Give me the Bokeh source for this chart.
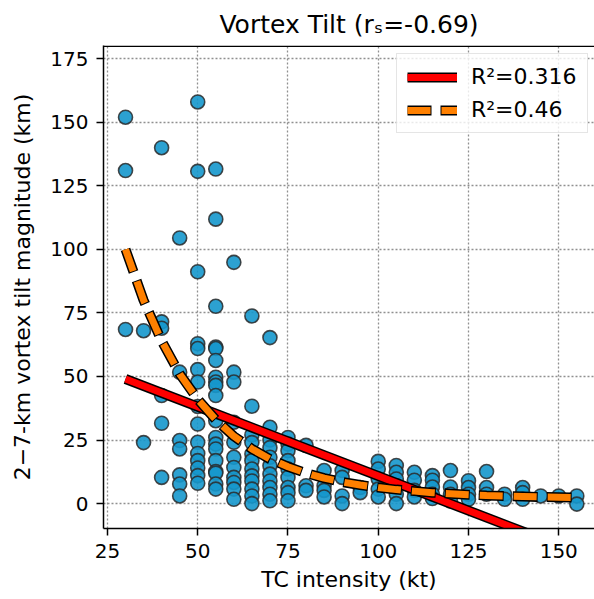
from bokeh.plotting import figure
from bokeh.models import (ColumnDataSource, Range1d, FixedTicker, Legend, LegendItem, Span)
from bokeh.embed import file_html
from bokeh.resources import INLINE

# ---------------- data ----------------
intensity_kt = (
    [30] * 3 + [35] * 2 + [40] * 6 + [45] * 7 + [50] * 15 + [55] * 19 +
    [60] * 11 + [65] * 12 + [70] * 11 + [75] * 9 + [80] * 3 + [85] * 4 +
    [90] * 4 + [95] * 2 + [100] * 5 + [105] * 6 + [110] * 4 + [115] * 5 +
    [120] * 4 + [125] * 4 + [130] * 3 + [135] * 2 + [140] * 3 + [145] * 1 +
    [150] * 1 + [155] * 2
)
tilt_km = (
    [152, 131, 68.5] +
    [68, 24] +
    [140, 71.5, 69, 42.5, 31.6, 10.3] +
    [104.5, 51.7, 24.8, 21.5, 11.3, 7.7, 3] +
    [158, 130.7, 91.2, 62.9, 61, 52.7, 47.8, 38.2, 31.3, 24.1, 19.7, 16.9, 14, 11, 8] +
    [131.6, 111.9, 77.6, 61.6, 61, 56.3, 49.7, 47.8, 46.5, 42.5, 32.6, 26, 23.4,
     21.5, 16.9, 12.6, 12, 7.7, 5.7] +
    [94.9, 51.7, 47.8, 32, 24.1, 18.2, 14.2, 10.3, 8.3, 5.7, 1.7] +
    [73.8, 38.3, 27, 24, 19.5, 16.9, 13.6, 10.9, 8.9, 5.7, 3, 0] +
    [65.3, 30, 25, 22, 18.2, 14.9, 11.6, 8.9, 6.3, 3.7, 1.1] +
    [26, 23.4, 20.8, 16.9, 13.6, 10.3, 6.3, 4.3, 1.1] +
    [22.9, 7, 5.2] +
    [13, 7, 5.2, 2.6] +
    [13, 10.3, 3, 0] +
    [6.3, 4.3] +
    [16.6, 13.6, 9.7, 5.7, 2.6] +
    [15, 12.3, 9.7, 7, 3.7, 0] +
    [12.3, 9.2, 5.2, 2.6] +
    [11, 9.2, 6.5, 3.7, 2] +
    [13, 6.5, 3.7, 1] +
    [9, 6.3, 3.7, 1.7] +
    [12.6, 6.3, 3.7] +
    [3.7, 1.7] +
    [6.3, 4.3, 1.7] +
    [3] +
    [3] +
    [3, -0.2]
)

# linear fit (R^2 = 0.316), end points
lin_x = [30, 155]
lin_y = [49.0, -19.1]

# curved fit (R^2 = 0.46)
curve_x = [30, 35, 40, 45, 50, 55, 60, 65, 70, 75, 80, 85, 90, 95, 100,
           105, 110, 115, 120, 125, 130, 135, 140, 145, 150, 155]
curve_y = [100, 80, 64, 51, 41, 33, 26.5, 21.5, 17.5, 14.5, 12, 10, 8.5, 7.3, 6.3,
           5.5, 4.9, 4.3, 3.9, 3.5, 3.2, 3.0, 2.8, 2.6, 2.5, 2.4]

x_ticks = [25, 50, 75, 100, 125, 150]
y_ticks = [0, 25, 50, 75, 100, 125, 150, 175]

title_text = "Vortex Tilt (r\u209b=-0.69)"
x_label = "TC intensity (kt)"
y_label = "2\u22127-km vortex tilt magnitude (km)"
legend_labels = ["R\u00b2=0.316", "R\u00b2=0.46"]

FONT = "DejaVu Sans"
Y_TOP = 180.2

# ---------------- figure ----------------
p = figure(width=594, height=599, output_backend="svg", toolbar_location=None,
           x_range=Range1d(23.9, 159.9), y_range=Range1d(-9.8, Y_TOP),
           min_border_left=103, min_border_right=0, min_border_top=45,
           min_border_bottom=71, title=title_text)

p.title.text_font = FONT
p.title.text_font_size = "25px"
p.title.text_font_style = "normal"
p.title.align = "center"
p.title.text_color = "black"
p.title.standoff = 14

p.background_fill_color = "white"
p.border_fill_color = "white"
p.outline_line_color = None

for ax in (p.xaxis[0], p.yaxis[0]):
    ax.axis_line_width = 1.5
    ax.axis_line_color = "black"
    ax.major_tick_line_width = 1.5
    ax.major_tick_line_color = "black"
    ax.major_tick_out = 7
    ax.major_tick_in = 0
    ax.minor_tick_line_color = None
    ax.major_label_text_font = FONT
    ax.major_label_text_font_size = "20px"
    ax.major_label_text_color = "black"
    ax.axis_label_text_font = FONT
    ax.axis_label_text_font_size = "22px"
    ax.axis_label_text_font_style = "normal"
    ax.axis_label_text_color = "black"

p.xaxis.ticker = FixedTicker(ticks=x_ticks)
p.yaxis.ticker = FixedTicker(ticks=y_ticks)
p.xaxis.axis_label = x_label
p.yaxis.axis_label = y_label
p.xaxis.major_label_standoff = 8
p.yaxis.major_label_standoff = 8
p.xaxis.axis_label_standoff = 6
p.yaxis.axis_label_standoff = 12

p.xgrid.ticker = FixedTicker(ticks=x_ticks)
p.ygrid.ticker = FixedTicker(ticks=y_ticks)
for g in (p.xgrid[0], p.ygrid[0]):
    g.grid_line_color = "#909090"
    g.grid_line_dash = "2 2"
    g.grid_line_width = 1.3

# top spine (right spine is outside the picture in the reference)
p.add_layout(Span(location=Y_TOP - 0.3, dimension="width", line_color="black",
                  line_width=1.5))

# ---------------- glyphs ----------------
pts = ColumnDataSource(dict(x=intensity_kt, y=tilt_km))
p.scatter("x", "y", source=pts, size=14, marker="circle",
          fill_color="#1597cc", fill_alpha=0.9,
          line_color="#2a2a2a", line_alpha=0.85, line_width=1.6)

lin_src = ColumnDataSource(dict(x=lin_x, y=lin_y))
red_bk = p.line("x", "y", source=lin_src, line_color="black", line_width=10)
red_r = p.line("x", "y", source=lin_src, line_color="#ff0000", line_width=7)

cur_src = ColumnDataSource(dict(x=curve_x, y=curve_y))
or_bk = p.line("x", "y", source=cur_src, line_color="black", line_width=10,
               line_dash="25 9", line_dash_offset=1)
or_r = p.line("x", "y", source=cur_src, line_color="#ff8000", line_width=7,
              line_dash="23 11")

legend = Legend(items=[LegendItem(label=legend_labels[0], renderers=[red_bk, red_r]),
                       LegendItem(label=legend_labels[1], renderers=[or_bk, or_r])],
                location=(293, 395))
legend.label_text_font = FONT
legend.label_text_font_size = "22px"
legend.label_text_color = "black"
legend.glyph_width = 50
legend.glyph_height = 24
legend.label_standoff = 14
legend.spacing = 8
legend.padding = 10
legend.margin = 0
legend.border_line_color = "#cccccc"
legend.border_line_width = 1.5
legend.background_fill_alpha = 0.8
p.add_layout(legend)

open("out.html", "w").write(file_html(p, INLINE))
